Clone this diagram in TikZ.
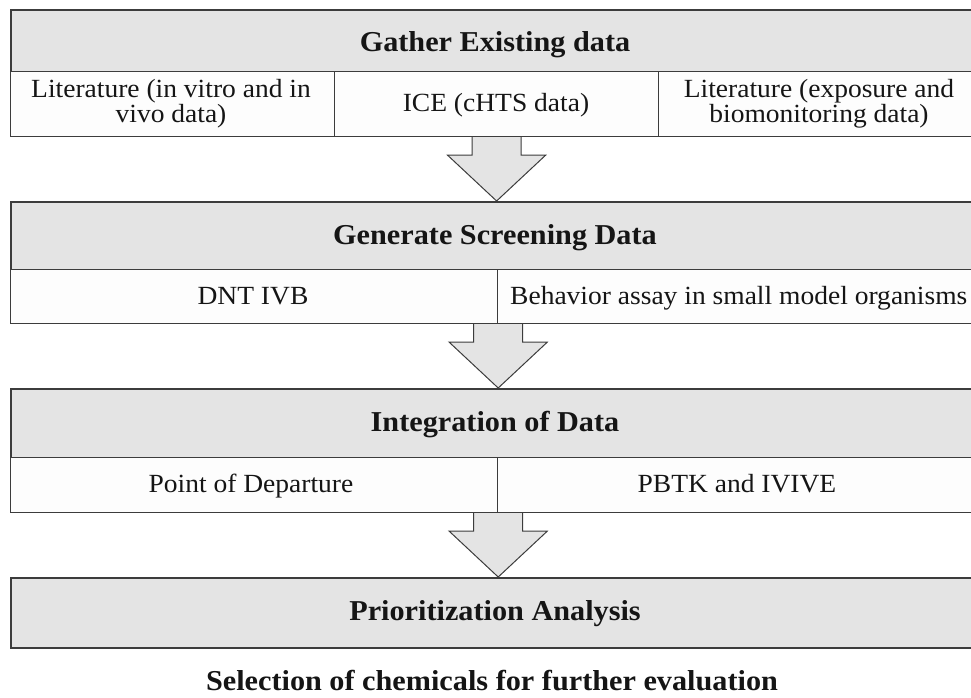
\documentclass[tikz,border=0pt]{standalone}
\usepackage{fontspec}
\setmainfont[FakeStretch=1.05]{Liberation Serif}
\usetikzlibrary{calc}
\definecolor{hdrgray}{HTML}{E4E4E4}
\definecolor{linegray}{HTML}{3C3C3C}
\definecolor{cellwhite}{HTML}{FDFDFD}
\definecolor{txt}{HTML}{151515}
\begin{document}
\begin{tikzpicture}[x=1pt,y=-1pt,
  hdrbox/.style={draw=linegray, line width=1.5pt, fill=hdrgray, inner sep=0pt, minimum width=975pt, anchor=north west},
  cellbox/.style={draw=linegray, line width=1.2pt, fill=cellwhite, inner sep=0pt, anchor=north west},
  htext/.style={font=\fontsize{28.8}{30}\selectfont\bfseries, text=txt, anchor=base, inner sep=0pt},
  ctext/.style={font=\fontsize{26.2}{25}\selectfont, text=txt, anchor=base, inner sep=0pt, align=center},
  bigarrow/.style={draw=linegray, line width=1pt, fill=hdrgray, line join=miter}
]
\useasboundingbox (0,0) rectangle (971,697);

% Box 1
\node[hdrbox, minimum height=62pt] (g1) at (10,9) {};
\node[cellbox, minimum width=324pt, minimum height=65pt] (c11) at (10,71) {};
\node[cellbox, minimum width=324pt, minimum height=65pt] (c12) at (334,71) {};
\node[cellbox, minimum width=330pt, minimum height=65pt] (c13) at (658,71) {};
\node[htext] (t1) at (495,51) {Gather Existing data};
\node[ctext, anchor=center] (t11) at (171,103.5) {Literature (in vitro and in\\vivo data)};
\node[ctext] (t12) at (496,111) {ICE (cHTS data)};
\node[ctext, anchor=center] (t13) at (819,103.5) {Literature (exposure and\\biomonitoring data)};

% Box 2
\node[hdrbox, minimum height=68pt] (g2) at (10,201) {};
\node[cellbox, minimum width=487pt, minimum height=54pt] (c21) at (10,269) {};
\node[cellbox, minimum width=483pt, minimum height=54pt] (c22) at (497,269) {};
\node[htext] (t2) at (495,244) {Generate Screening Data};
\node[ctext] (t21) at (253,304) {DNT IVB};
\node[ctext, anchor=base west] (t22) at (510,304) {Behavior assay in small model organisms};

% Box 3
\node[hdrbox, minimum height=69pt] (g3) at (10,388) {};
\node[cellbox, minimum width=487pt, minimum height=55pt] (c31) at (10,457) {};
\node[cellbox, minimum width=483pt, minimum height=55pt] (c32) at (497,457) {};
\node[htext] (t3) at (495,431) {Integration of Data};
\node[ctext] (t31) at (251,492) {Point of Departure};
\node[ctext] (t32) at (737,492) {PBTK and IVIVE};

% Box 4
\node[hdrbox, minimum height=70pt] (g4) at (10,577) {};
\node[htext] (t4) at (495,620) {Prioritization Analysis};

% Caption
\node[htext] (cap) at (492,690) {Selection of chemicals for further evaluation};

% Arrows
\path (c12.south) coordinate (a1s) (g2.north -| a1s) coordinate (a1t);
\path (c21.south east) coordinate (a2s) (g3.north -| a2s) coordinate (a2t);
\path (c31.south east) coordinate (a3s) (g4.north -| a3s) coordinate (a3t);
\foreach \s/\t in {a1s/a1t, a2s/a2t, a3s/a3t}{
  \draw[bigarrow] ($(\s)+(-24.5,0)$) -- ++(0,18) -- ++(-24.5,0) -- (\t)
    -- ($(\s)+(49,18)$) -- ++(-24.5,0) -- ($(\s)+(24.5,0)$);
}
\end{tikzpicture}
\end{document}
